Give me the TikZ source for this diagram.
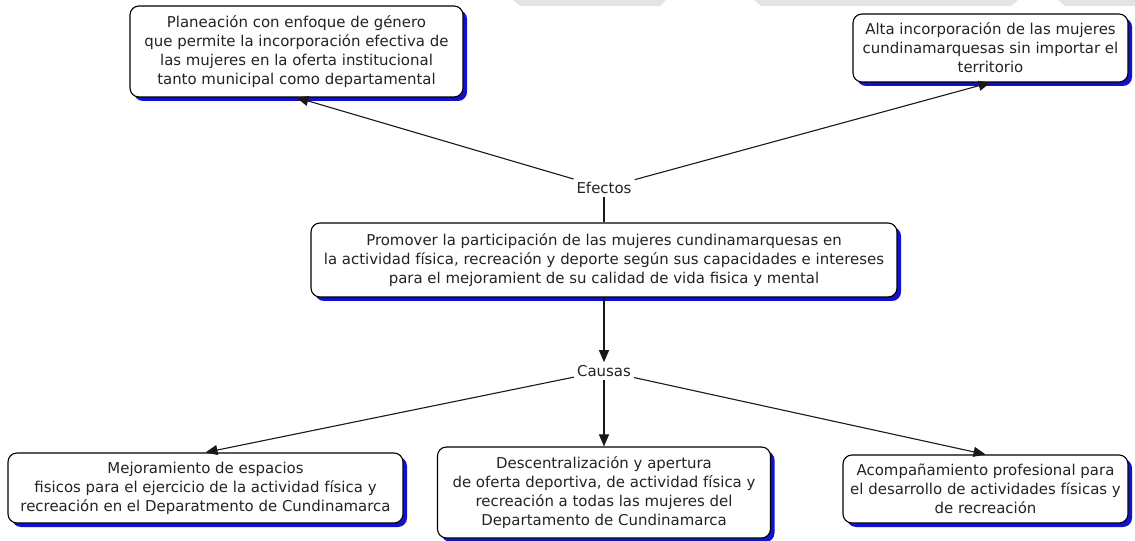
\documentclass[tikz,border=0pt]{standalone}
\usepackage{fontspec}
\usetikzlibrary{shadows,arrows.meta}
\newfontfamily\boxfont{DejaVu Sans}
\definecolor{textgray}{RGB}{35,35,35}
\definecolor{linegray}{RGB}{25,25,25}
\definecolor{shadowblue}{RGB}{18,18,205}
\definecolor{bandgray}{RGB}{228,228,228}
\tikzset{
  box/.style={draw=black, line width=1.1bp, rounded corners=9bp, fill=white,
    align=center, text=textgray, inner sep=2bp,
    font=\boxfont\fontsize{15}{19}\selectfont,
    drop shadow={fill=shadowblue, opacity=1, shadow xshift=4bp, shadow yshift=-4bp}},
  lbl/.style={text=textgray, inner sep=3bp, font=\boxfont\fontsize{15}{17}\selectfont},
  conn/.style={draw=linegray, line width=1.1bp},
  arr/.style={conn, -{Triangle[length=12bp,width=10bp]}},
  band/.style={fill=bandgray, draw=none}
}
\begin{document}
\begin{tikzpicture}[x=1bp,y=-1bp]
\useasboundingbox (0,0) rectangle (1135,541);
\fill[white] (0,0) rectangle (1135,541);
% header band
\path[band] (513,0) -- (666,0) -- (660,6) -- (520,6) -- cycle;
\path[band] (754,0) -- (1018,0) -- (1011,6) -- (761,6) -- cycle;
\path[band] (1058,0) -- (1135,0) -- (1135,6) -- (1065,6) -- cycle;
% boxes
\node[box, minimum width=333bp, minimum height=91bp] (tl) at (296.5,51.5)
  {Planeación con enfoque de género\\que permite la incorporación efectiva de\\las mujeres en la oferta institucional\\tanto municipal como departamental};
\node[box, minimum width=275bp, minimum height=68bp] (tr) at (990.5,48)
  {Alta incorporación de las mujeres\\cundinamarquesas sin importar el\\territorio};
\node[box, minimum width=586bp, minimum height=74bp] (c) at (604,260)
  {Promover la participación de las mujeres cundinamarquesas en\\la actividad física, recreación y deporte según sus capacidades e intereses\\para el mejoramient de su calidad de vida fisica y mental};
\node[box, minimum width=395bp, minimum height=70bp] (bl) at (205.5,488)
  {Mejoramiento de espacios\\fisicos para el ejercicio de la actividad física y\\recreación en el Deparatmento de Cundinamarca};
\node[box, minimum width=333bp, minimum height=91bp] (bm) at (604,492.5)
  {Descentralización y apertura\\de oferta deportiva, de actividad física y\\recreación a todas las mujeres del\\Departamento de Cundinamarca};
\node[box, minimum width=285bp, minimum height=68bp] (br) at (985.5,489)
  {Acompañamiento profesional para\\el desarrollo de actividades físicas y\\de recreación};
% labels
\node[lbl] (ef) at (604,188) {Efectos};
\node[lbl] (ca) at (604,371) {Causas};
% connectors
\draw[arr] (ef) -- (tl.south);
\draw[arr] (ef) -- (tr.south);
\draw[conn] (ef) -- (c.north);
\draw[arr] (c.south) -- (ca);
\draw[arr] (ca) -- (bl.north);
\draw[arr] (ca) -- (bm.north);
\draw[arr] (ca) -- (br.north);
\end{tikzpicture}
\end{document}
